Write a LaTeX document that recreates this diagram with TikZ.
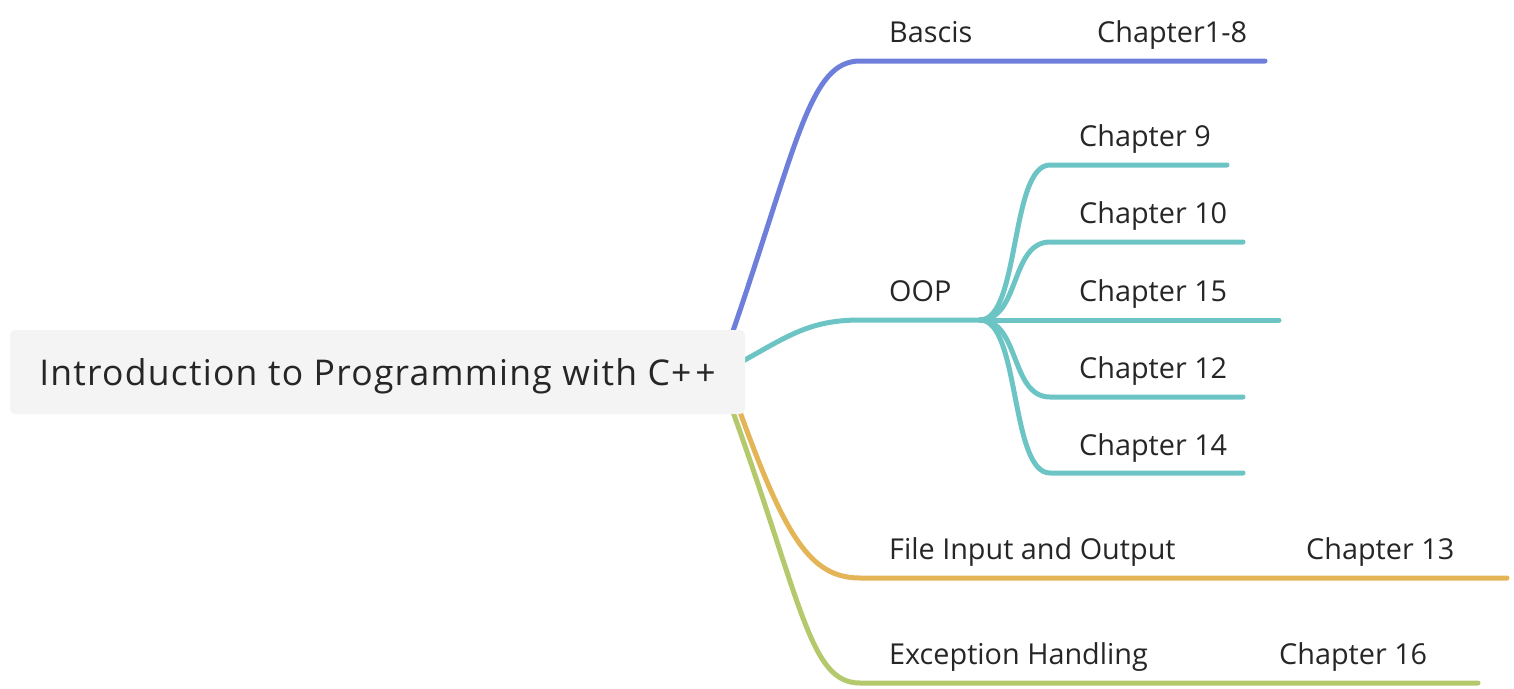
\documentclass[tikz,border=0pt]{standalone}
\usepackage{fontspec}
\setmainfont{Open Sans}
\newfontfamily\rootfont[LetterSpace=3.5]{Open Sans}
\definecolor{cblue}{HTML}{6E7FDB}
\definecolor{cteal}{HTML}{6CC4C4}
\definecolor{corange}{HTML}{E3B556}
\definecolor{cgreen}{HTML}{B3C96C}
\definecolor{rootfill}{HTML}{F4F4F4}
\definecolor{txt}{HTML}{262626}
\begin{document}
\begin{tikzpicture}[x=1pt,y=-1pt,
  brline/.style={line width=5pt,line cap=round},
  lbl/.style={anchor=base west,inner sep=0pt,text=txt,font=\fontsize{28.8}{32}\selectfont},
  rootbox/.style={fill=rootfill,rounded corners=5pt,minimum width=735pt,minimum height=84pt,inner sep=0pt,text height=30pt,text depth=4pt,text=txt,font=\rootfont\fontsize{35.5}{38}\selectfont}]
\useasboundingbox (0,0) rectangle (1514,688);
% anchor coordinates
\coordinate (rTop) at (733,331);
\coordinate (rRight) at (743,361);
\coordinate (rBotO) at (740,412);
\coordinate (rBotG) at (733,412);
\coordinate (bS) at (860,61);
\coordinate (bE) at (1265,61);
\coordinate (oS) at (860,320);
\coordinate (oJ) at (980,320);
\coordinate (c9S) at (1050,165);  \coordinate (c9E) at (1227,165);
\coordinate (c10S) at (1050,242); \coordinate (c10E) at (1243,242);
\coordinate (c15E) at (1279,320);
\coordinate (c12S) at (1050,397); \coordinate (c12E) at (1243,397);
\coordinate (c14S) at (1050,473); \coordinate (c14E) at (1243,473);
\coordinate (fS) at (860,578); \coordinate (fE) at (1507,578);
\coordinate (eS) at (860,683); \coordinate (eE) at (1478,683);
% connectors
\draw[brline,cblue] (rTop) .. controls +(65,-190) and +(-50,0) .. (bS) -- (bE);
\draw[brline,cteal] (rRight) .. controls +(45,-25) and +(-50,0) .. (oS) -- (oJ);
\draw[brline,cteal] (oJ) .. controls +(40,0) and +(-40,0) .. (c9S) -- (c9E);
\draw[brline,cteal] (oJ) .. controls +(40,0) and +(-40,0) .. (c10S) -- (c10E);
\draw[brline,cteal] (oJ) -- (c15E);
\draw[brline,cteal] (oJ) .. controls +(40,0) and +(-40,0) .. (c12S) -- (c12E);
\draw[brline,cteal] (oJ) .. controls +(40,0) and +(-40,0) .. (c14S) -- (c14E);
\draw[brline,corange] (rBotO) .. controls +(45,124) and +(-50,0) .. (fS) -- (fE);
\draw[brline,cgreen] (rBotG) .. controls +(70,195) and +(-50,0) .. (eS) -- (eE);
% root
\node[rootbox] (root) at (377.5,372) {Introduction to Programming with C+\kern4pt+};
% labels
\node[lbl] (bascis) at (889,42) {Bascis};
\node[lbl] (ch18) at (1097,42) {Chapter1-8};
\node[lbl] (oop) at (889,301) {OOP};
\node[lbl] (ch9) at (1079,146) {Chapter 9};
\node[lbl] (ch10) at (1079,223) {Chapter 10};
\node[lbl] (ch15) at (1079,301) {Chapter 15};
\node[lbl] (ch12) at (1079,378) {Chapter 12};
\node[lbl] (ch14) at (1079,455) {Chapter 14};
\node[lbl] (fio) at (889,559) {File Input and Output};
\node[lbl] (ch13) at (1306,559) {Chapter 13};
\node[lbl] (exc) at (889,664) {Exception Handling};
\node[lbl] (ch16) at (1279,664) {Chapter 16};
\end{tikzpicture}
\end{document}
